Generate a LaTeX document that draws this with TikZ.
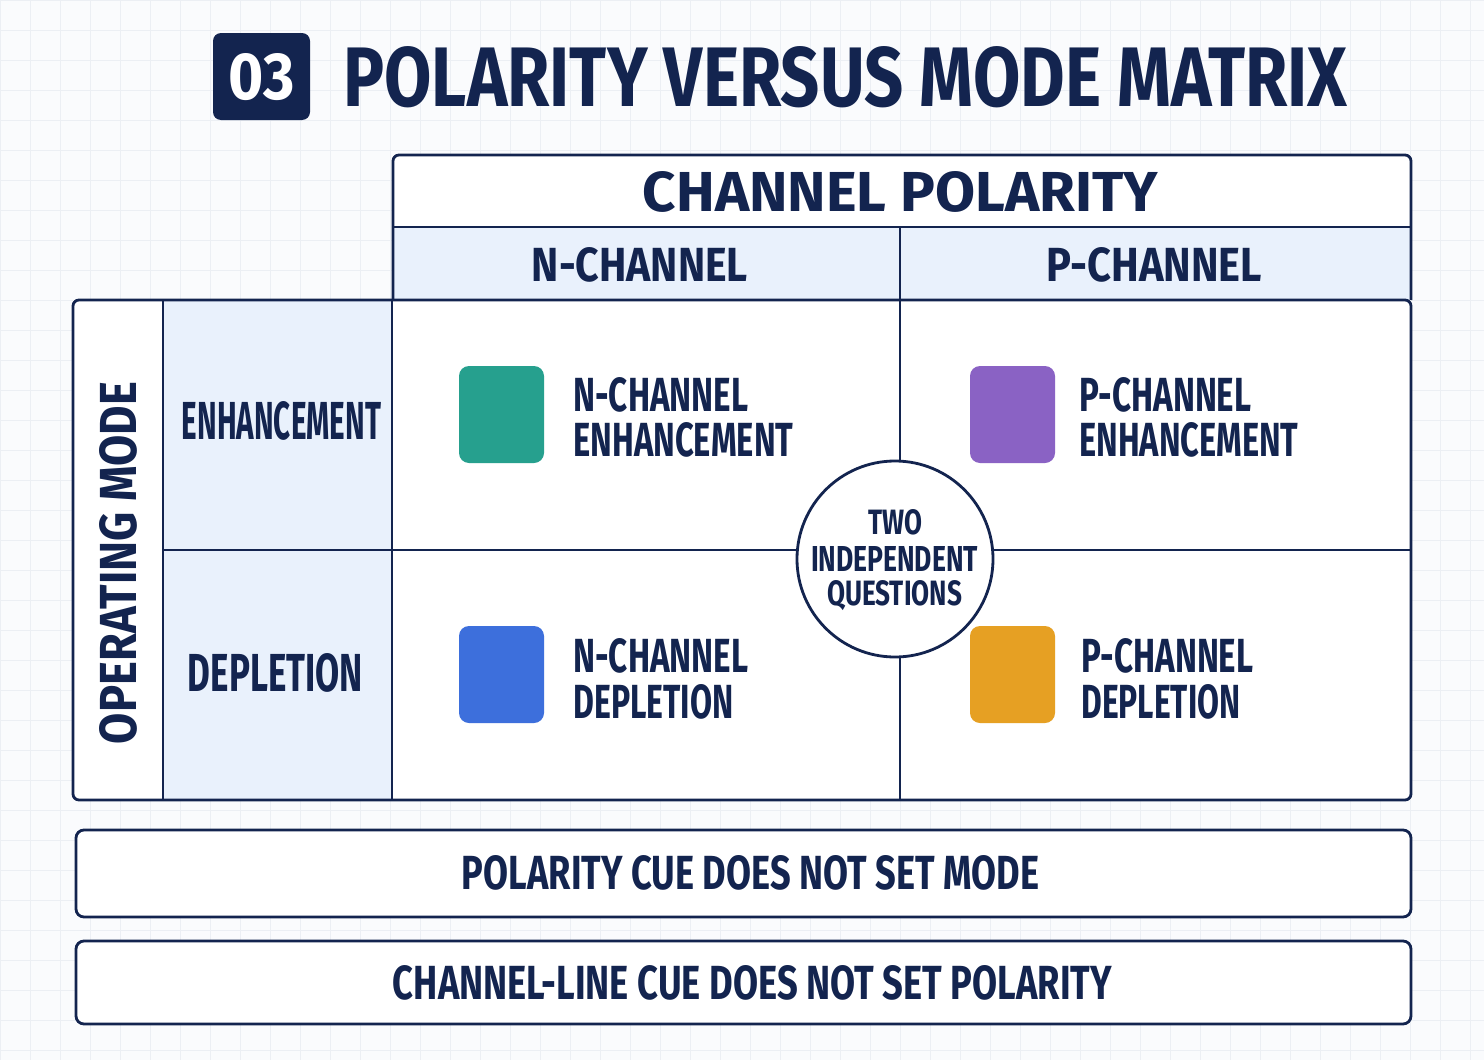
\documentclass[tikz,border=0pt]{standalone}
\usepackage{fontspec}
\setmainfont{Fira Sans}
\usepackage{graphicx}
\definecolor{navy}{HTML}{13244F}
\definecolor{lblue}{HTML}{E9F1FC}
\definecolor{bg}{HTML}{FAFBFD}
\definecolor{gridc}{HTML}{ECEFF4}
\definecolor{teal}{HTML}{26A08E}
\definecolor{purp}{HTML}{8A62C4}
\definecolor{blu}{HTML}{3D6FDC}
\definecolor{orng}{HTML}{E6A023}
\newcommand{\fit}[3]{\resizebox{#1pt}{#2pt}{\bfseries #3}}
\begin{document}
\begin{tikzpicture}[x=0.5pt,y=-0.5pt,
  txt/.style={inner sep=0pt,text=navy},
  box/.style={draw=navy,line width=1.4pt},
  sqr/.style={rounded corners=5pt}]
\useasboundingbox (0,0) rectangle (1484,1060);
\fill[bg] (0,0) rectangle (1484,1060);
\foreach \i in {0,30,...,1484} \draw[gridc,line width=0.4pt] (\i,0) -- (\i,1060);
\foreach \j in {0,30,...,1060} \draw[gridc,line width=0.4pt] (0,\j) -- (1484,\j);
% title
\fill[navy,rounded corners=4pt] (213,33) rectangle (310,120);
\node[txt,text=white] (num) at (261.5,77) {\fit{33}{23}{03}};
\node[txt,anchor=west] (title) at (343,77) {\fit{502}{30}{POLARITY VERSUS MODE MATRIX}};
% header
\fill[white] (393,155) rectangle (1411,227);
\fill[lblue] (393,227) rectangle (1411,300);
\draw[box,rounded corners=3pt] (393,300) -- (393,155) -- (1411,155) -- (1411,300);
\draw[box] (393,227) -- (1411,227);
\draw[box] (900,227) -- (900,300);
\node[txt] (cp) at (900.5,192) {\fit{257.5}{20}{CHANNEL POLARITY}};
\node[txt] (nch) at (640,265) {\fit{108}{17}{N-CHANNEL}};
\node[txt] (pch) at (1154,265) {\fit{108}{17}{P-CHANNEL}};
% main
\fill[white] (73,300) rectangle (1411,800);
\fill[lblue] (163,300) rectangle (392,800);
\draw[box,rounded corners=3pt] (73,300) rectangle (1411,800);
\draw[box] (163,300) -- (163,800);
\draw[box] (392,300) -- (392,800);
\draw[box] (900,300) -- (900,800);
\draw[box] (163,550) -- (1411,550);
\node[txt,rotate=90] (om) at (118.5,563) {\fit{181}{18.5}{OPERATING MODE}};
\node[txt] (enh) at (281.5,421) {\fit{99.5}{19}{ENHANCEMENT}};
\node[txt] (dep) at (275.5,673) {\fit{87.5}{19}{DEPLETION}};
% squares
\fill[teal,sqr] (459,366) rectangle (544,463);
\fill[purp,sqr] (970,366) rectangle (1055,463);
\fill[blu,sqr] (459,626) rectangle (544,723);
\fill[orng,sqr] (970,626) rectangle (1055,723);
\node[txt,anchor=west] (ne1) at (573,395) {\fit{87.5}{17}{N-CHANNEL}};
\node[txt,anchor=west] (ne2) at (573,440) {\fit{110}{17}{ENHANCEMENT}};
\node[txt,anchor=west] (pe1) at (1079,395) {\fit{86}{17}{P-CHANNEL}};
\node[txt,anchor=west] (pe2) at (1079,440) {\fit{109.5}{17}{ENHANCEMENT}};
\node[txt,anchor=west] (nd1) at (573,656) {\fit{87.5}{17}{N-CHANNEL}};
\node[txt,anchor=west] (nd2) at (573,702) {\fit{80}{17}{DEPLETION}};
\node[txt,anchor=west] (pd1) at (1081,656) {\fit{86}{17}{P-CHANNEL}};
\node[txt,anchor=west] (pd2) at (1081,702) {\fit{79.5}{17}{DEPLETION}};
% circle
\draw[box,fill=white] (895,559) circle[radius=49pt];
\node[txt] (q1) at (895,522) {\fit{27}{12.5}{TWO}};
\node[txt] (q2) at (894.5,559) {\fit{83.5}{12.5}{INDEPENDENT}};
\node[txt] (q3) at (894.5,596) {\fit{67.5}{12.5}{QUESTIONS}};
% bottom
\draw[box,fill=white,rounded corners=4pt] (76,830) rectangle (1411,917);
\draw[box,fill=white,rounded corners=4pt] (76,941) rectangle (1411,1024);
\node[txt] (b1) at (750.5,873) {\fit{288.5}{17}{POLARITY CUE DOES NOT SET MODE}};
\node[txt] (b2) at (752.5,983) {\fit{359.5}{17}{CHANNEL-LINE CUE DOES NOT SET POLARITY}};
\end{tikzpicture}
\end{document}
